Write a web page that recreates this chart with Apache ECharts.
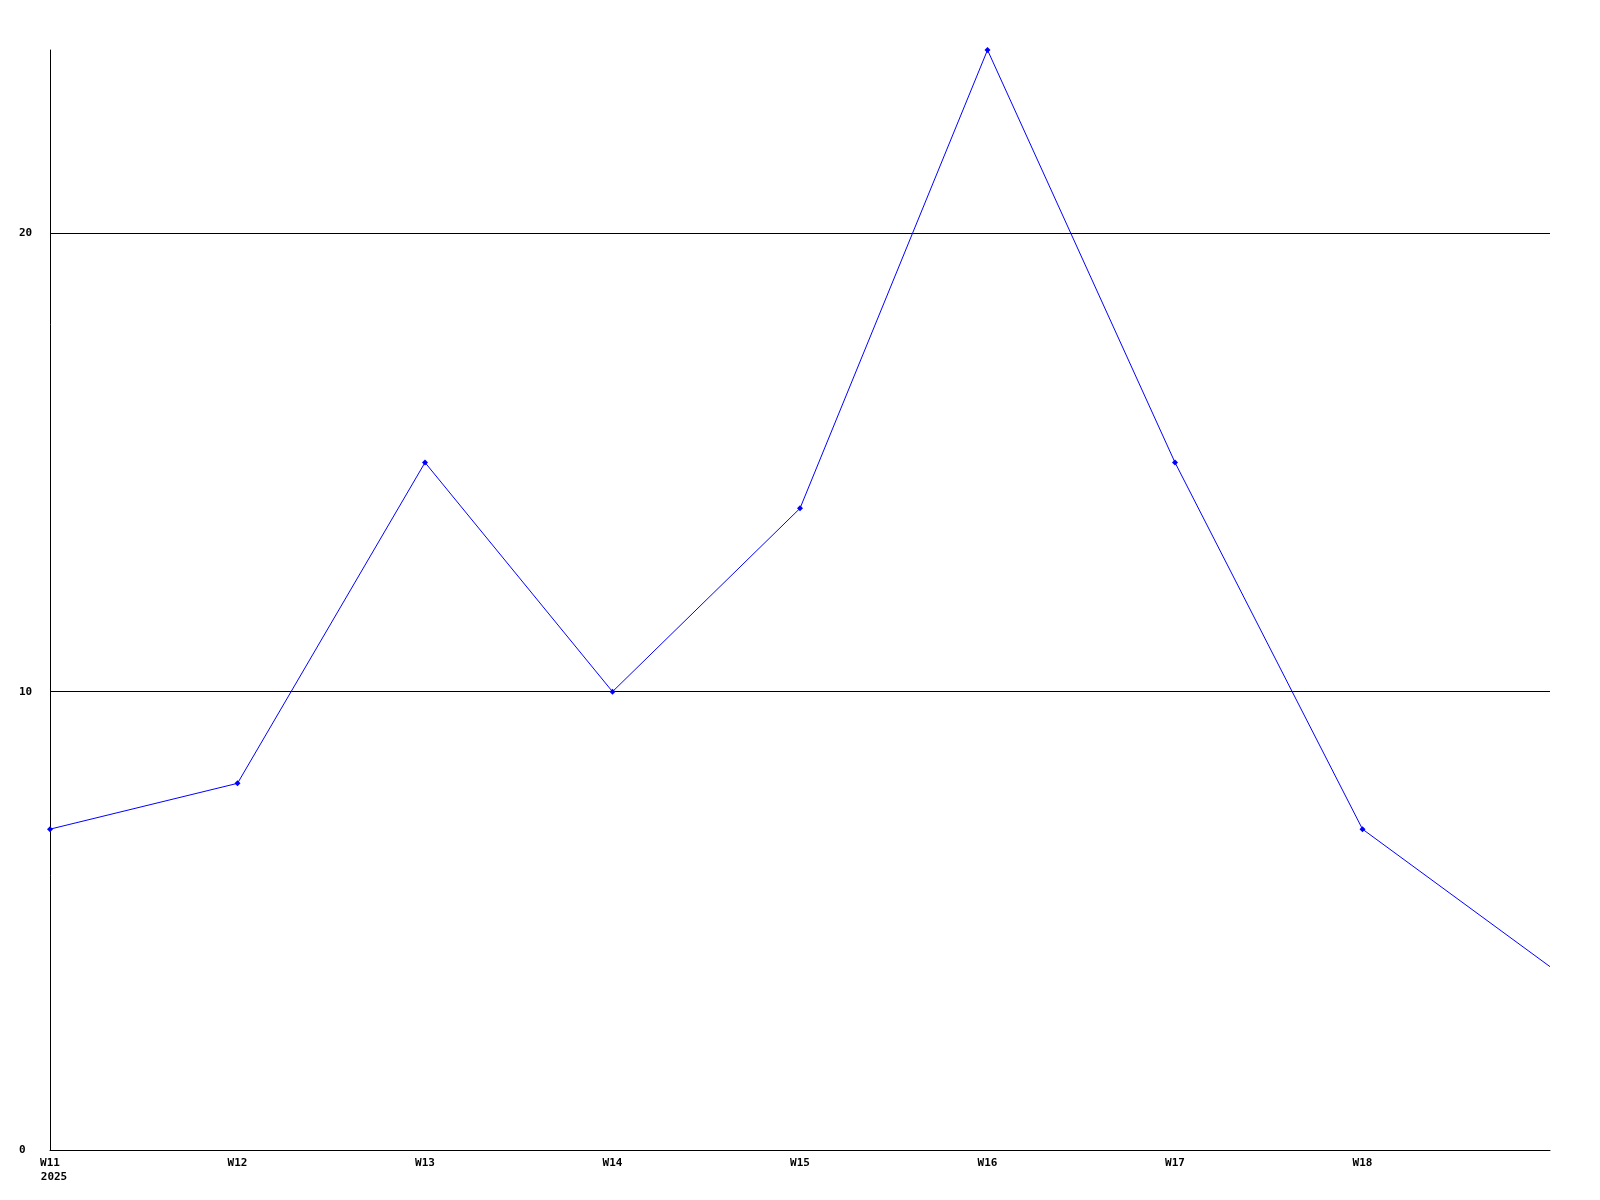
<!DOCTYPE html>
<html>
<head>
<meta charset="utf-8">
<script src="https://cdn.jsdelivr.net/npm/echarts@6/dist/echarts.min.js"></script>
<style>
html,body{margin:0;padding:0;background:#fff;}
#chart{width:1600px;height:1200px;}
</style>
</head>
<body>
<div id="chart"></div>
<script>
const weeks = ['W11', 'W12', 'W13', 'W14', 'W15', 'W16', 'W17', 'W18', 'W19'];
const yearLabel = '2025';
const values = [7, 8, 15, 10, 14, 24, 15, 7, 4];
const yTicks = [0, 10, 20];

const chart = echarts.init(document.getElementById('chart'));
const font = 'DejaVu Sans Mono';
const seriesData = values.map((v, i) => i === values.length - 1 ? { value: v, symbol: 'none' } : v);

chart.setOption({
  animation: false,
  backgroundColor: '#fff',
  grid: { left: 50, right: 50, top: 50, bottom: 50, containLabel: false },
  xAxis: {
    type: 'category',
    data: weeks,
    boundaryGap: false,
    axisLine: { show: true, lineStyle: { color: '#000', width: 1 } },
    axisTick: { show: false },
    splitLine: { show: false },
    axisLabel: {
      margin: 6,
      color: '#000',
      fontFamily: font,
      fontWeight: 'bold',
      fontSize: 11,
      lineHeight: 14,
      showMaxLabel: false,
      formatter: (v, i) => i === 0 ? '{a|' + v + '}\n{b|' + yearLabel + '}' : (i === weeks.length - 1 ? '' : v),
      rich: {
        a: { fontFamily: font, fontWeight: 'bold', fontSize: 11, color: '#000', lineHeight: 14 },
        b: { fontFamily: font, fontWeight: 'bold', fontSize: 11, color: '#000', lineHeight: 14, padding: [0, 0, 0, 8] }
      }
    }
  },
  yAxis: {
    type: 'value',
    min: 0,
    max: 24,
    interval: 10,
    axisLine: { show: true, lineStyle: { color: '#000', width: 1 } },
    axisTick: { show: false },
    splitLine: { show: true, lineStyle: { color: ['#000', '#000', '#000', 'rgba(0,0,0,0)'], width: 1 } },
    axisLabel: {
      margin: 31,
      align: 'left',
      color: '#000',
      fontFamily: font,
      fontWeight: 'bold',
      fontSize: 11,
      showMaxLabel: false,
      formatter: v => yTicks.includes(v) ? String(v) : ''
    }
  },
  series: [{
    type: 'line',
    data: seriesData,
    symbol: 'diamond',
    symbolSize: 6,
    showSymbol: true,
    lineStyle: { color: '#0000ff', width: 1 },
    itemStyle: { color: '#0000ff' }
  }]
});
</script>
</body>
</html>
